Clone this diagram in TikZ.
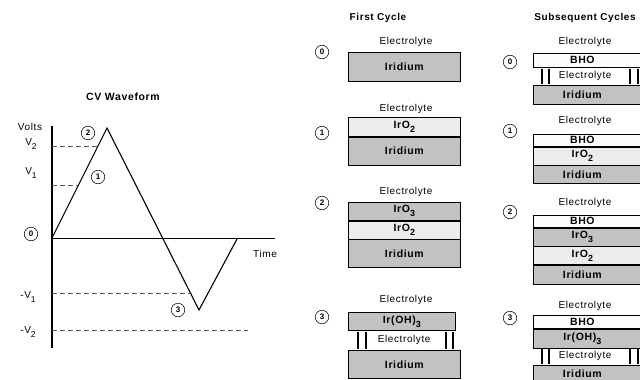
\documentclass[tikz,border=0pt]{standalone}
\usepackage{fontspec}
\setmainfont{Liberation Sans}[LetterSpace=6]
\definecolor{irgray}{RGB}{194,194,194}
\definecolor{lightgray}{RGB}{236,236,236}
\definecolor{bhowhite}{RGB}{252,252,252}
\definecolor{dashgray}{RGB}{90,90,90}
\newcommand{\lowsub}[1]{\raisebox{-0.38em}{\scalebox{0.85}{#1}}}
\tikzset{
  lbl/.style={inner sep=0pt, font=\fontsize{10}{11}\selectfont},
  blbl/.style={inner sep=0pt, font=\fontsize{10}{11}\selectfont\bfseries},
  layer/.style={draw=black, line width=0.7pt, rectangle, anchor=north west, inner sep=0pt,
     minimum width=112pt, font=\fontsize{10.5}{11}\selectfont\bfseries},
  dk/.style={layer, fill=irgray},
  lt/.style={layer, fill=lightgray},
  wh/.style={layer, fill=bhowhite},
  gaprow/.style={anchor=north west, inner sep=0pt, minimum width=112pt, font=\fontsize{10}{11}\selectfont},
  rcol/.style={execute at begin node={\hspace*{-14pt}}},
  rgap/.style={execute at begin node={\hspace*{-8pt}}},
  num/.style={circle, draw=black, line width=0.5pt, inner sep=0pt, minimum size=13.5pt,
     font=\fontsize{8}{9}\selectfont\bfseries},
  bar/.style={line width=1.8pt},
  guide/.style={draw=dashgray, line width=0.7pt, dash pattern=on 5pt off 3pt},
}
\begin{document}
\begin{tikzpicture}[x=1pt,y=-1pt]
\useasboundingbox (0,0) rectangle (640,380);
\clip (0,0) rectangle (640,380);
\fill[white] (0,0) rectangle (640,380);

% ---------------- CV waveform ----------------
\node[blbl, font=\fontsize{10.5}{11}\selectfont\bfseries] (title) at (123,97) {CV Waveform};
\coordinate (ytop) at (52,126);
\coordinate (ybot) at (52,348);
\coordinate (O) at (52,238);
\coordinate (xend) at (275,238);
\coordinate (P) at (107,128);
\coordinate (Q) at (199,310);
\coordinate (E) at (237,239);
\draw[line width=1.8pt] (ytop) -- (ybot);
\draw[line width=0.7pt] (O) -- (xend);
\draw[line width=1.1pt, line join=miter] (O) -- (P) -- (Q) -- (E);

\coordinate (v2a) at (52,146); \coordinate (v2b) at (98,146);
\coordinate (v1a) at (52,185); \coordinate (v1b) at (78,185);
\coordinate (m1a) at (52,293); \coordinate (m1b) at (192,293);
\coordinate (m2a) at (52,330); \coordinate (m2b) at (248,330);
\draw[guide] (v2a) -- (v2b);
\draw[guide] (v1a) -- (v1b);
\draw[guide] (m1a) -- (m1b);
\draw[guide] (m2a) -- (m2b);

\node[lbl] (volts) at (30,127) {Volts};
\node[lbl] (lv2) at (31,144) {V\lowsub{2}};
\node[lbl] (lv1) at (31,173) {V\lowsub{1}};
\node[lbl] (lmv1) at (28,297) {-V\lowsub{1}};
\node[lbl] (lmv2) at (28,332) {-V\lowsub{2}};
\node[lbl] (time) at (265,254) {Time};

\node[num] (w0) at (31,234) {0};
\node[num] (w2) at (88,133) {2};
\node[num] (w1) at (98,177) {1};
\node[num] (w3) at (178,310) {3};

% ---------------- First cycle ----------------
\node[blbl] (fc) at (378,18) {First Cycle};

% stage 0
\node[num] (f0) at (322,52) {0};
\node[lbl] (fe0) at (406,42) {Electrolyte};
\node[dk, minimum height=29pt] (fa0) at (348,52) {Iridium};

% stage 1
\node[num] (f1) at (322,133) {1};
\node[lbl] (fe1) at (406,109) {Electrolyte};
\node[lt, minimum height=19pt] (fa1) at (348,117) {IrO\lowsub{2}};
\node[dk, minimum height=28pt] (fb1) at (fa1.south west) {Iridium};

% stage 2
\node[num] (f2) at (322,203) {2};
\node[lbl] (fe2) at (406,192) {Electrolyte};
\node[dk, minimum height=18pt] (fa2) at (348,202) {IrO\lowsub{3}};
\node[lt, minimum height=18pt] (fb2) at (fa2.south west) {IrO\lowsub{2}};
\node[dk, minimum height=28pt] (fc2) at (fb2.south west) {Iridium};

% stage 3
\node[num] (f3) at (322,317) {3};
\node[lbl] (fe3) at (406,300) {Electrolyte};
\node[dk, minimum height=18pt, minimum width=107pt] (fa3) at (348,312) {Ir(OH)\lowsub{3}};
\node[gaprow, minimum height=20pt] (fb3) at (348,330) {Electrolyte};
\node[dk, minimum height=28pt] (fc3) at (348,350) {Iridium};
\foreach \xx in {358,366,446,453}{\draw[bar] (\xx,331.5) -- (\xx,348.5);}

% ---------------- Subsequent cycles ----------------
\node[blbl] (sc) at (585,18) {Subsequent Cycles};

% stage 0
\node[num] (s0) at (510,62) {0};
\node[lbl] (se0) at (585,42) {Electrolyte};
\node[wh, rcol, minimum height=14pt] (sa0) at (533,53) {BHO};
\node[gaprow, rgap, minimum height=18pt] (sb0) at (533,67) {Electrolyte};
\node[dk, rcol, minimum height=19pt] (sc0) at (533,85) {Iridium};
\foreach \xx in {542,549,630,638}{\draw[bar] (\xx,68.5) -- (\xx,83.5);}

% stage 1
\node[num] (s1) at (510,131) {1};
\node[lbl] (se1) at (585,121) {Electrolyte};
\node[wh, rcol, minimum height=12pt] (sa1) at (533,134) {BHO};
\node[lt, rcol, minimum height=18pt] (sb1) at (sa1.south west) {IrO\lowsub{2}};
\node[dk, rcol, minimum height=18pt] (sc1) at (sb1.south west) {Iridium};

% stage 2
\node[num] (s2) at (510,212) {2};
\node[lbl] (se2) at (585,203) {Electrolyte};
\node[wh, rcol, minimum height=12pt] (sa2) at (533,215) {BHO};
\node[dk, rcol, minimum height=18pt] (sb2) at (sa2.south west) {IrO\lowsub{3}};
\node[lt, rcol, minimum height=18pt] (sc2) at (sb2.south west) {IrO\lowsub{2}};
\node[dk, rcol, minimum height=19pt] (sd2) at (sc2.south west) {Iridium};

% stage 3
\node[num] (s3) at (510,318) {3};
\node[lbl] (se3) at (585,306) {Electrolyte};
\node[wh, rcol, minimum height=13pt] (sa3) at (533,315) {BHO};
\node[dk, rcol, minimum height=19pt] (sb3) at (sa3.south west) {Ir(OH)\lowsub{3}};
\node[gaprow, rgap, minimum height=18pt] (sc3) at (533,347) {Electrolyte};
\node[dk, rcol, minimum height=17pt] (sd3) at (533,365) {Iridium};
\foreach \xx in {542,549,630,638}{\draw[bar] (\xx,348.5) -- (\xx,363.5);}
\end{tikzpicture}
\end{document}
